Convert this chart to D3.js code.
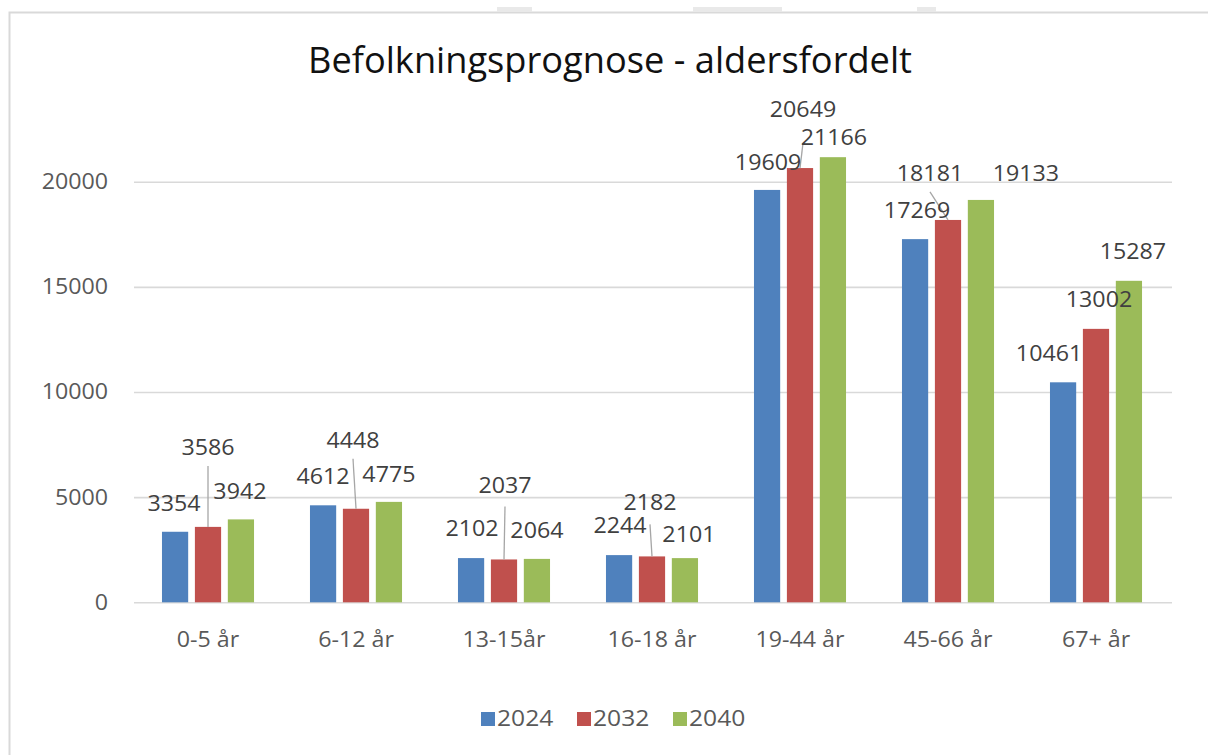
<!DOCTYPE html>
<html>
<head>
<meta charset="utf-8">
<script src="https://cdn.jsdelivr.net/npm/d3@7"></script>
<style>
  body { margin: 0; background: #fff; }
  text { font-family: "Open Sans", "Noto Sans", sans-serif; }
</style>
</head>
<body>
<svg width="1208" height="755"></svg>
<script>
// data
var categories = ["0-5 år", "6-12 år", "13-15år", "16-18 år", "19-44 år", "45-66 år", "67+ år"];
var years = ["2024", "2032", "2040"];
var values2024 = [3354, 4612, 2102, 2244, 19609, 17269, 10461];
var values2032 = [3586, 4448, 2037, 2182, 20649, 18181, 13002];
var values2040 = [3942, 4775, 2064, 2101, 21166, 19133, 15287];
var yTicks = [0, 5000, 10000, 15000, 20000];
var colors = ["#4f81bd", "#c0504d", "#9bbb59"];

// hand placed data labels (excel style): [dx, dy, leader gap or null]
var nudge2024 = [[-1,-21,null],[0,-21,null],[1,-22,null],[1,-22,null],[1,-20,null],[2,-21,null],[-14,-21,null]];
var nudge2032 = [[0,-72,11],[-3,-61,11],[1,-66,13],[-2,-46,14],[3,-51,26],[-18,-39,11],[3,-22,null]];
var nudge2040 = [[-1,-20,null],[0,-20,null],[0,-21,null],[4,-16,null],[1,-12,null],[45,-19,null],[4,-22,null]];

var series = [values2024, values2032, values2040];
var nudges = [nudge2024, nudge2032, nudge2040];

var svg = d3.select("svg"),
    left = 134, right = 1172;

function stretch(sel, k) {
    sel.each(function() {
        var len = this.getComputedTextLength();
        d3.select(this).attr("textLength", len * k).attr("lengthAdjust", "spacingAndGlyphs");
    });
}

// frame
svg.append("rect")
    .attr("x", 9.5).attr("y", 12.5)
    .attr("width", 1230).attr("height", 760)
    .attr("fill", "none")
    .attr("stroke", "#d9d9d9")
    .attr("stroke-width", 2);
[[497, 35], [693, 89], [917, 19]].forEach(function(t) {
    svg.append("rect").attr("x", t[0]).attr("y", 7).attr("width", t[1]).attr("height", 5).attr("fill", "#e9e9e9");
});

var x0 = d3.scaleBand()
    .domain(categories)
    .range([left, 1170])
    .paddingInner(0.378)
    .paddingOuter(0.189);

var x1 = d3.scaleBand()
    .domain(years)
    .range([0, x0.bandwidth()])
    .paddingInner(0.204);

var y = d3.scaleLinear()
    .domain([0, 20000])
    .range([602.3, 181.7]);

// y axis + gridlines
var yAxis = svg.append("g")
    .attr("transform", `translate(${left},0)`)
    .call(d3.axisLeft(y).tickValues(yTicks).tickFormat(d3.format("d"))
        .tickSize(-(right - left)).tickPadding(26));
yAxis.select(".domain").remove();
yAxis.selectAll("line").attr("stroke", "#d9d9d9").attr("stroke-width", 1.6);
yAxis.selectAll("text")
    .attr("font-size", 21.5)
    .attr("fill", "#595959")
    .attr("font-family", null);

// x axis
var xAxis = svg.append("g")
    .attr("transform", `translate(0,${y(0)})`)
    .call(d3.axisBottom(x0).tickSize(0).tickPadding(29));
xAxis.select(".domain").remove();
xAxis.selectAll("text")
    .attr("font-size", 21.5)
    .attr("fill", "#595959")
    .attr("font-family", null);

// bars
var rows = [];
categories.forEach(function(c, i) {
    years.forEach(function(yr, s) {
        rows.push({cat: c, year: yr, s: s, value: series[s][i], nudge: nudges[s][i]});
    });
});

svg.append("g").selectAll("rect")
    .data(rows)
    .enter().append("rect")
    .attr("x", d => x0(d.cat) + x1(d.year))
    .attr("y", d => y(d.value))
    .attr("width", x1.bandwidth())
    .attr("height", d => y(0) - y(d.value))
    .attr("fill", d => colors[d.s]);

// leader lines
var cx = d => x0(d.cat) + x1(d.year) + x1.bandwidth() / 2;
svg.append("g").selectAll("line")
    .data(rows.filter(d => d.nudge[2] !== null))
    .enter().append("line")
    .attr("x1", d => cx(d) + d.nudge[0])
    .attr("y1", d => y(d.value) + d.nudge[1] + d.nudge[2])
    .attr("x2", d => cx(d))
    .attr("y2", d => y(d.value))
    .attr("stroke", "#a6a6a6")
    .attr("stroke-width", 1.3);

// data labels
svg.append("g").selectAll("text")
    .data(rows)
    .enter().append("text")
    .attr("x", d => cx(d) + d.nudge[0])
    .attr("y", d => y(d.value) + d.nudge[1])
    .attr("text-anchor", "middle")
    .attr("font-size", 21.5)
    .attr("fill", "#404040")
    .text(d => d.value);

// title
svg.append("text")
    .attr("x", 610)
    .attr("y", 73)
    .attr("text-anchor", "middle")
    .attr("font-size", 36)
    .attr("fill", "#111")
    .attr("textLength", 604)
    .attr("lengthAdjust", "spacingAndGlyphs")
    .text("Befolkningsprognose - aldersfordelt");

// legend
var legend = svg.selectAll(".legend")
    .data(years)
    .enter().append("g")
    .attr("class", "legend")
    .attr("transform", (d, i) => `translate(${481 + i * 96},712)`);
legend.append("rect")
    .attr("width", 14)
    .attr("height", 14)
    .attr("fill", (d, i) => colors[i]);
legend.append("text")
    .attr("x", 16)
    .attr("y", 14)
    .attr("font-size", 21.5)
    .attr("fill", "#595959")
    .text(d => d);

stretch(svg.selectAll("g text"), 1.08);
stretch(legend.selectAll("text"), 1.06);
</script>
</body>
</html>
